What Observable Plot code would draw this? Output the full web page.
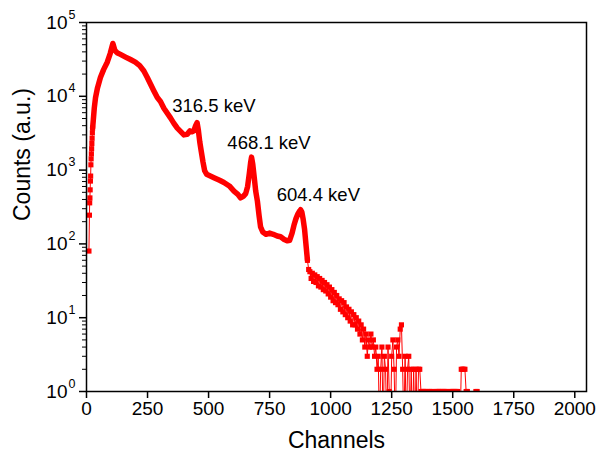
<!DOCTYPE html>
<html>
<head>
<meta charset="utf-8">
<script src="https://cdn.jsdelivr.net/npm/d3@7"></script>
<script src="https://cdn.jsdelivr.net/npm/@observablehq/plot@0.6"></script>
<style>
  html, body { margin: 0; padding: 0; background: white; }
  svg { display: block; }
</style>
</head>
<body>
<div id="chart"></div>
<script>
// ---- Data ----
// Rising edge (discrete markers)
const riseCh     = [10, 12, 13, 14, 15, 16, 17, 18, 19, 20, 21, 22, 23, 24, 25];
const riseCounts = [80, 245, 360, 420, 540, 710, 830, 1180, 1420, 1660, 1950, 2300, 2700, 3200, 3700];

// Main body of the spectrum (dense, drawn as a thick curve)
const mainCh = [25, 28, 32, 37, 45, 57, 70, 85, 97, 108, 116, 125, 139, 160, 180, 200, 218, 235, 249, 262, 275, 290, 303, 317, 331, 344, 358, 372, 385, 399, 412, 424, 432, 440, 447, 453, 458, 464, 470, 477, 484, 492, 505, 522, 545, 563, 585, 604, 620, 631, 642, 652, 660, 667, 672, 676, 681, 687, 693, 700, 707, 713, 722, 735, 750, 765, 781, 795, 810, 822, 832, 842, 850, 858, 866, 872, 877, 882, 887, 893, 900, 905];
const mainCounts = [3700, 4800, 7000, 9600, 13000, 18000, 23000, 29000, 38000, 52000, 42000, 39000, 37000, 34000, 31500, 29000, 26000, 22000, 18000, 14700, 12000, 9600, 8500, 6900, 5900, 5100, 4300, 3700, 3350, 3000, 3050, 3400, 3300, 3400, 4000, 4400, 3500, 2400, 1800, 1300, 980, 880, 840, 790, 730, 680, 610, 520, 470, 420, 440, 480, 600, 900, 1250, 1500, 1200, 800, 520, 380, 240, 170, 145, 135, 140, 135, 128, 125, 115, 110, 112, 140, 180, 220, 255, 275, 290, 270, 220, 160, 90, 60];

// Noisy decay region (markers)
const noisyCh = [905, 910, 915, 920, 925, 930, 935, 940, 945, 950, 955, 960, 965, 970, 975, 980, 985, 990, 995, 1000, 1005, 1010, 1015, 1020, 1025, 1030, 1035, 1040, 1045, 1050, 1055, 1060, 1065, 1070, 1075, 1080, 1085, 1090, 1095, 1100, 1105, 1110, 1115, 1120, 1125, 1130, 1135, 1140, 1145, 1150];
const noisyCounts = [60, 45, 42, 34, 40, 31, 38, 30, 36, 27, 34, 26, 32, 24, 30, 23, 28, 21, 26, 19, 24, 17, 22, 16, 20, 15, 18, 13, 17, 12, 16, 11, 14, 10, 13, 9, 12, 8, 11, 8, 10, 7, 9, 6, 8, 5, 7, 4, 6, 3];

// Sparse tail (integer counts, 0 = empty channel)
const tailCh = [1155, 1160, 1165, 1170, 1175, 1180, 1185, 1190, 1195, 1200, 1205, 1210, 1215, 1220, 1225, 1230, 1235, 1240, 1245, 1250, 1255, 1260, 1265, 1270, 1275, 1280, 1285, 1290, 1295, 1300, 1305, 1310, 1315, 1320, 1325, 1330, 1335, 1340, 1345, 1350, 1355, 1360, 1365, 1370, 1375, 1380, 1385, 1390, 1395, 1400, 1405, 1410, 1415, 1420, 1425, 1430, 1435, 1440, 1445, 1450, 1455, 1460, 1465, 1470, 1475, 1480, 1485, 1490, 1495, 1500, 1505, 1510, 1515, 1520, 1525, 1530, 1535, 1540, 1545, 1550, 1555, 1560, 1565, 1570, 1575, 1580, 1585, 1590, 1595, 1600, 1605];
const tailCounts = [5, 4, 6, 4, 5, 3, 4, 2, 3, 0, 2, 4, 0, 3, 2, 0, 4, 1, 0, 3, 5, 2, 0, 4, 5, 3, 7, 8, 2, 0, 3, 0, 2, 3, 0, 2, 0, 2, 0, 2, 0, 2, 2, 1, 1, 1, 1, 1, 1, 0, 1, 1, 1, 0, 0, 1, 1, 1, 1, 1, 1, 1, 1, 1, 1, 0, 0, 1, 1, 1, 1, 1, 1, 1, 0, 0, 2, 2, 2, 2, 1, 1, 0, 0, 0, 0, 0, 0, 1, 1, 0];

// Peak annotations
const peakLabels = ["316.5 keV", "468.1 keV", "604.4 keV"];
const peakLabelCh = [351, 577, 779];
const peakLabelCounts = [7330, 2340, 460];

// Axis ticks
const xTicks = [0, 250, 500, 750, 1000, 1250, 1500, 1750, 2000];
const yExponents = [0, 1, 2, 3, 4, 5];

// ---- Build tables ----
const toRows = (chs, cs) => chs.map((c, i) => ({ch: c, count: cs[i]}));
const rise = toRows(riseCh, riseCounts);
const main = toRows(mainCh, mainCounts);
const noisy = toRows(noisyCh, noisyCounts);
const tail = toRows(tailCh, tailCounts);
const all = [...rise, ...main.slice(1), ...noisy.slice(1), ...tail];
const markerRows = [...rise, ...noisy, ...tail];
const yv = d => Math.max(d.count, 0.3); // empty channels fall below the frame
const yMajor = yExponents.map(e => Math.pow(10, e));
const yMinor = [];
for (let e = 0; e < 5; e++) for (let m = 2; m <= 9; m++) yMinor.push(m * Math.pow(10, e));
const annos = peakLabels.map((t, i) => ({t, ch: peakLabelCh[i], count: peakLabelCounts[i]}));

const RED = "#ff0000";
const chart = Plot.plot({
  width: 597,
  height: 457,
  marginLeft: 86,
  marginRight: 11,
  marginTop: 22,
  marginBottom: 66,
  style: {fontFamily: "'Liberation Sans', Arial, sans-serif", fontSize: "18px", color: "black", background: "white"},
  x: {domain: [0, 2048]},
  y: {type: "log", domain: [1, 1e5]},
  marks: [
    Plot.line(all, {x: "ch", y: yv, stroke: RED, strokeWidth: 1, clip: true}),
    Plot.line(main, {x: "ch", y: "count", stroke: RED, strokeWidth: 5.5, strokeLinejoin: "round", strokeLinecap: "round", clip: true}),
    Plot.dot(markerRows, {x: "ch", y: yv, symbol: "square", r: 2.9, fill: RED, stroke: "none", clip: true}),
    Plot.frame({stroke: "black", strokeWidth: 1.5}),
    Plot.axisX({ticks: xTicks, tickSize: 7, tickPadding: 3, fontSize: 19, label: null, tickFormat: d => String(d), strokeWidth: 1.5}),
    Plot.axisY({ticks: yMajor, tickSize: 7, tickFormat: () => "", label: null, strokeWidth: 1.5}),
    Plot.axisY({ticks: yMinor, tickSize: 4, tickFormat: () => "", label: null, strokeWidth: 1}),
    Plot.text(yMajor, {y: d => d, text: () => "10", frameAnchor: "left", textAnchor: "end", dx: -19, fontSize: 19, fill: "black"}),
    Plot.text(yExponents, {y: e => Math.pow(10, e), text: e => String(e), frameAnchor: "left", textAnchor: "start", dx: -18, dy: -8, fontSize: 12.5, fill: "black"}),
    Plot.text(annos, {x: "ch", y: "count", text: "t", textAnchor: "start", fontSize: 18.5, fill: "black"}),
    Plot.text(["Channels"], {frameAnchor: "bottom", dy: 56, fontSize: 23, fill: "black"}),
    Plot.text(["Counts (a.u.)"], {frameAnchor: "left", rotate: -90, dx: -64, dy: 14, fontSize: 23, fill: "black"})
  ]
});
document.getElementById("chart").appendChild(chart);
</script>
</body>
</html>
